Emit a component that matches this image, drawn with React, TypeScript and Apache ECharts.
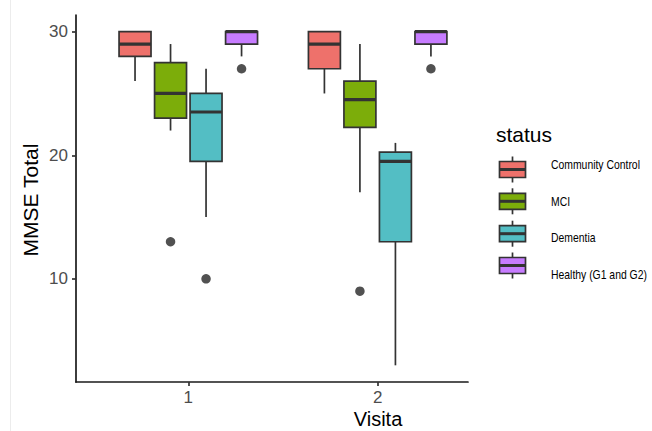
import React, { useEffect, useRef } from "react";
import * as echarts from "echarts";

const visits = [1, 2];
const statuses = ["Community Control", "MCI", "Dementia", "Healthy (G1 and G2)"];
const colors = ["#ee716b", "#7cad0a", "#53bec4", "#c77cff"];
// per visit: [lower whisker, Q1, median, Q3, upper whisker]
const ccStats = [[26, 28, 29, 30, 30], [25, 27, 29, 30, 30]];
const mciStats = [[22, 23, 25, 27.5, 29], [17, 22.25, 24.5, 26, 29]];
const demStats = [[15, 19.5, 23.5, 25, 27], [3, 13, 19.5, 20.25, 21]];
const healthyStats = [[28, 29, 30, 30, 30], [28, 29, 30, 30, 30]];
// outliers per visit
const ccOut: number[][] = [[], []];
const mciOut = [[13], [9]];
const demOut = [[10], []];
const healthyOut = [[27], [27]];
const yTicks = [10, 20, 30];

const allStats = [ccStats, mciStats, demStats, healthyStats];
const allOut = [ccOut, mciOut, demOut, healthyOut];

const FONT = "'Liberation Sans', Arial, Helvetica, sans-serif";
const DARK = "#333333";
const SLOT = 0.75 / 4;
const BOXW = SLOT * 0.9;

export default function App() {
  const ref = useRef<HTMLDivElement>(null);
  useEffect(() => {
    if (!ref.current) return;
    const chart = echarts.init(ref.current, null, { renderer: "svg" });
    const series: any[] = [];
    allStats.forEach((stats, i) => {
      const off = (i - 1.5) * SLOT;
      series.push({
        type: "custom",
        name: statuses[i],
        data: visits.map((v, k) => [v, ...stats[k]]),
        encode: { x: 0, y: [1, 2, 3, 4, 5] },
        renderItem: (params: any, api: any) => {
          const x = api.value(0) + off;
          const lo = api.coord([x, api.value(1)]);
          const q1 = api.coord([x, api.value(2)]);
          const md = api.coord([x, api.value(3)]);
          const q3 = api.coord([x, api.value(4)]);
          const hi = api.coord([x, api.value(5)]);
          const w = api.size([BOXW, 0])[0];
          const cx = lo[0];
          const ls = { stroke: DARK, lineWidth: 1.7 };
          return {
            type: "group",
            children: [
              { type: "line", shape: { x1: cx, y1: hi[1], x2: cx, y2: q3[1] }, style: ls },
              { type: "line", shape: { x1: cx, y1: q1[1], x2: cx, y2: lo[1] }, style: ls },
              {
                type: "rect",
                shape: { x: cx - w / 2, y: q3[1], width: w, height: q1[1] - q3[1] },
                style: { fill: colors[i], stroke: DARK, lineWidth: 1.7 },
              },
              {
                type: "line",
                shape: { x1: cx - w / 2, y1: md[1], x2: cx + w / 2, y2: md[1] },
                style: { stroke: DARK, lineWidth: 3.2 },
              },
            ],
          };
        },
      });
      const pts: number[][] = [];
      visits.forEach((v, k) => allOut[i][k].forEach((o) => pts.push([v + off, o])));
      series.push({
        type: "scatter",
        data: pts,
        symbol: "circle",
        symbolSize: 9.5,
        itemStyle: { color: "#262626" },
        z: 5,
      });
    });

    const legendEls: any[] = [];
    const keyCenters = [169.5, 201.3, 233.7, 265.5];
    const labelCenters = [164.3, 200.7, 237.3, 274];
    statuses.forEach((s, i) => {
      const cy = keyCenters[i];
      legendEls.push(
        { type: "line", shape: { x1: 512.5, y1: cy - 13, x2: 512.5, y2: cy + 13 }, style: { stroke: DARK, lineWidth: 1.7 } },
        { type: "rect", shape: { x: 499.5, y: cy - 8, width: 26, height: 16 }, style: { fill: colors[i], stroke: DARK, lineWidth: 1.7 } },
        { type: "line", shape: { x1: 499.5, y1: cy, x2: 525.5, y2: cy }, style: { stroke: DARK, lineWidth: 3 } },
        {
          type: "text",
          x: 551,
          y: labelCenters[i],
          scaleX: 0.8,
          style: { text: s, fontSize: 13, fontFamily: FONT, fill: "#000", textVerticalAlign: "middle" },
        }
      );
    });

    chart.setOption({
      animation: false,
      textStyle: { fontFamily: FONT },
      grid: { left: 76, right: 184, top: 15, bottom: 49 },
      xAxis: {
        type: "value",
        min: 0.407,
        max: 2.477,
        splitLine: { show: false },
        axisLine: { lineStyle: { color: "#1a1a1a", width: 1.7 } },
        axisTick: { show: true, length: 4, customValues: visits, lineStyle: { color: DARK, width: 1.7 } },
        axisLabel: { customValues: visits, fontSize: 17, color: "#4d4d4d", margin: 7, fontFamily: FONT },
      },
      yAxis: {
        type: "value",
        min: 1.65,
        max: 31.35,
        splitLine: { show: false },
        axisLine: { show: true, lineStyle: { color: "#1a1a1a", width: 1.7 } },
        axisTick: { show: true, length: 4, customValues: yTicks, lineStyle: { color: DARK, width: 1.7 } },
        axisLabel: { customValues: yTicks, fontSize: 17, color: "#4d4d4d", margin: 8, fontFamily: FONT },
      },
      graphic: [
        { type: "line", shape: { x1: 10.5, y1: 0, x2: 10.5, y2: 431 }, style: { stroke: "#ececec", lineWidth: 1 } },
        {
          type: "text",
          x: 30,
          y: 200,
          rotation: Math.PI / 2,
          style: { text: "MMSE Total", fontSize: 21, fontFamily: FONT, fill: "#000", textAlign: "center", textVerticalAlign: "middle" },
        },
        {
          type: "text",
          x: 378,
          y: 419,
          style: { text: "Visita", fontSize: 20, fontFamily: FONT, fill: "#000", textAlign: "center", textVerticalAlign: "middle" },
        },
        {
          type: "text",
          x: 496,
          y: 134,
          style: { text: "status", fontSize: 21, fontFamily: FONT, fill: "#000", textVerticalAlign: "middle" },
        },
        ...legendEls,
      ],
      series,
    });
    return () => chart.dispose();
  }, []);
  return (
    <div
      ref={ref}
      style={{ position: "fixed", left: 0, top: 0, width: 652, height: 431, background: "#fff" }}
    />
  );
}
